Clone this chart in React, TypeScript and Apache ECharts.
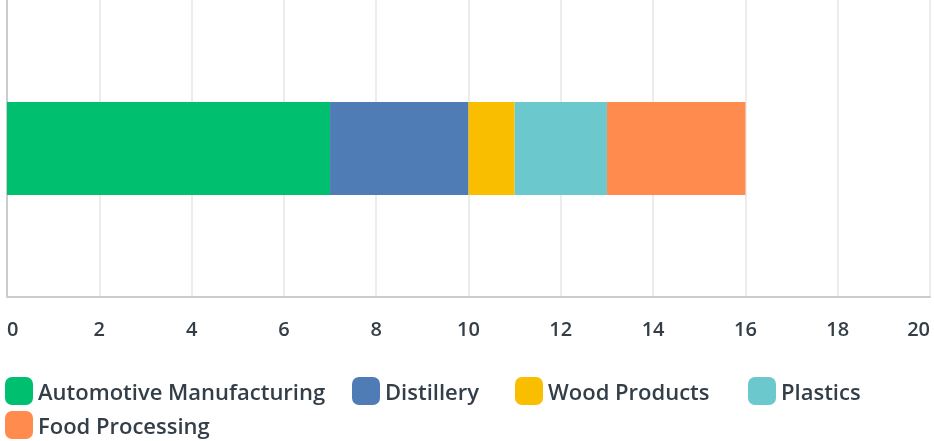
import React, { useEffect, useRef } from "react";
import * as echarts from "echarts";

const categories = ["Industry"];
const seriesNames = ["Automotive Manufacturing", "Distillery", "Wood Products", "Plastics", "Food Processing"];
const seriesValues = [[7], [3], [1], [2], [3]];
const colors = ["#00bf6f", "#507cb6", "#f9be00", "#6bc8cd", "#ff8b4f"];

const legendSlots = [
  { left: 5, top: 377 },
  { left: 352, top: 377 },
  { left: 515, top: 377 },
  { left: 748, top: 377 },
  { left: 5, top: 411 },
];

export default function App() {
  const ref = useRef<HTMLDivElement>(null);
  useEffect(() => {
    const chart = echarts.init(ref.current!, null, { renderer: "svg" });
    const legendText = {
      color: "#333e48",
      fontSize: 22,
      fontWeight: 600,
      fontFamily: "Open Sans",
    };
    chart.setOption({
      animation: false,
      color: colors,
      grid: { left: 7, right: 4, top: 0, bottom: 144, containLabel: false },
      xAxis: {
        type: "value",
        min: 0,
        max: 20,
        interval: 2,
        axisLine: { show: true, lineStyle: { color: "#cccccc", width: 2 } },
        axisTick: { show: false },
        splitLine: { lineStyle: { color: "#ececec", width: 2 } },
        axisLabel: {
          color: "#333e48",
          fontSize: 20,
          fontWeight: 600,
          fontFamily: "Open Sans",
          margin: 21,
          alignMinLabel: "left",
          alignMaxLabel: "right",
        },
      },
      yAxis: {
        type: "category",
        data: categories,
        axisLine: { show: true, lineStyle: { color: "#cccccc", width: 2 } },
        axisTick: { show: false },
        axisLabel: { show: false },
      },
      legend: seriesNames.map((name, i) => ({
        left: legendSlots[i].left,
        top: legendSlots[i].top,
        padding: 0,
        icon: "roundRect",
        itemWidth: 28,
        itemHeight: 28,
        textStyle: legendText,
        data: [name],
      })),
      series: seriesNames.map((name, i) => ({
        name,
        type: "bar",
        stack: "total",
        barWidth: 93,
        data: seriesValues[i],
      })),
    });
    return () => chart.dispose();
  }, []);
  return <div ref={ref} style={{ width: 934, height: 441, position: "fixed", left: 0, top: 0 }} />;
}
